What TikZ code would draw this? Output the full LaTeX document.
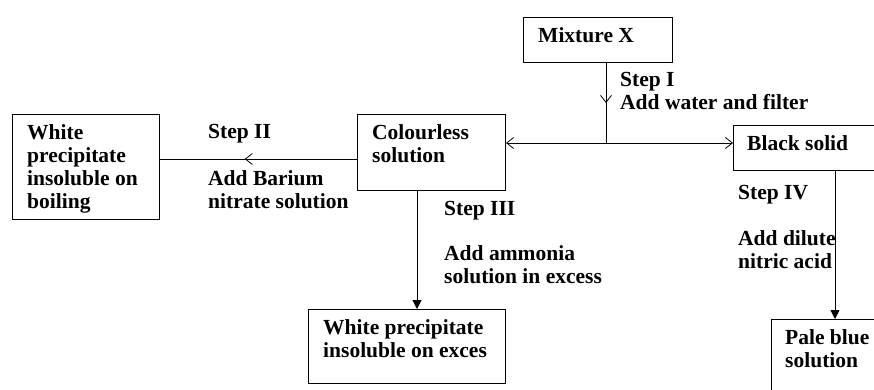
\documentclass[tikz,border=0pt]{standalone}
\usepackage{fontspec}
\setmainfont{Liberation Serif}
\usetikzlibrary{arrows.meta,decorations.markings,calc}
\begin{document}
\begin{tikzpicture}[x=1pt,y=-1pt,
  box/.style={draw,line width=1pt,rectangle,inner sep=0pt},
  txt/.style={inner sep=0pt,anchor=base west,font=\fontsize{21.5}{23}\selectfont\bfseries},
  conn/.style={line width=0.8pt},
  opentip/.style={-{Straight Barb[length=7pt,width=11pt,line width=0.8pt]}},
  filltip/.style={-{Triangle[length=9pt,width=9pt]}},
  midopen/.style={postaction={decorate},decoration={markings,mark=at position #1 with {\arrow{Straight Barb[length=7pt,width=11pt,line width=0.8pt]}}}}
]
\useasboundingbox (0,0) rectangle (874,390);
\clip (0,0) rectangle (874,390);
\fill[white] (0,0) rectangle (874,390);

% boxes
\node[box,minimum width=149pt,minimum height=45pt,anchor=north west] (mx) at (523,17) {};
\node[box,minimum width=148pt,minimum height=76pt,anchor=north west] (cs) at (357,114) {};
\node[box,minimum width=147pt,minimum height=105pt,anchor=north west] (wp1) at (12,114) {};
\node[box,minimum width=167pt,minimum height=45pt,anchor=north west] (bs) at (733,125) {};
\node[box,minimum width=197pt,minimum height=74pt,anchor=north west] (wp2) at (308,309) {};
\node[box,minimum width=130pt,minimum height=101pt,anchor=north west] (pb) at (771,319) {};

\coordinate (j) at (606,143);

% texts
\node[txt] (tmx) at (538,43) {Mixture X};
\node[txt] (tcs) at (372,140) {\vtop{\hbox{Colourless}\hbox{solution}}};
\node[txt] (twp1) at (27,140) {\vtop{\hbox{White}\hbox{precipitate}\hbox{insoluble on}\hbox{boiling}}};
\node[txt] (tbs) at (747,150) {Black solid};
\node[txt] (twp2) at (323,334) {\vtop{\hbox{White precipitate}\hbox{insoluble on exces}}};
\node[txt] (tpb) at (785,344) {\vtop{\hbox{Pale blue}\hbox{solution}}};

\node[txt] (s1) at (620,87) {\vtop{\hbox{Step I}\hbox{Add water and filter}}};
\node[txt] (s2) at (208,139) {Step II};
\node[txt] (s2b) at (208,185) {\vtop{\hbox{Add Barium}\hbox{nitrate solution}}};
\node[txt] (s3) at (444,215) {Step III};
\node[txt] (s3b) at (444,260) {\vtop{\hbox{Add ammonia}\hbox{solution in excess}}};
\node[txt] (s4) at (738,199) {Step IV};
\node[txt] (s4b) at (738,245) {\vtop{\hbox{Add dilute}\hbox{nitric acid}}};

% connectors
\draw[conn,midopen=0.5] (j |- mx.south) -- (j);
\draw[conn,opentip] (j) -- (j -| cs.east);
\draw[conn,opentip] (j) -- (j -| bs.west);
\draw[conn,midopen=0.57] (cs.west |- 0,159) -- (wp1.east |- 0,159);
\draw[conn,filltip] (cs.south -| 417,0) -- (wp2.north -| 417,0);
\draw[conn,filltip] (bs.south -| 835,0) -- (pb.north -| 835,0);
\end{tikzpicture}
\end{document}
